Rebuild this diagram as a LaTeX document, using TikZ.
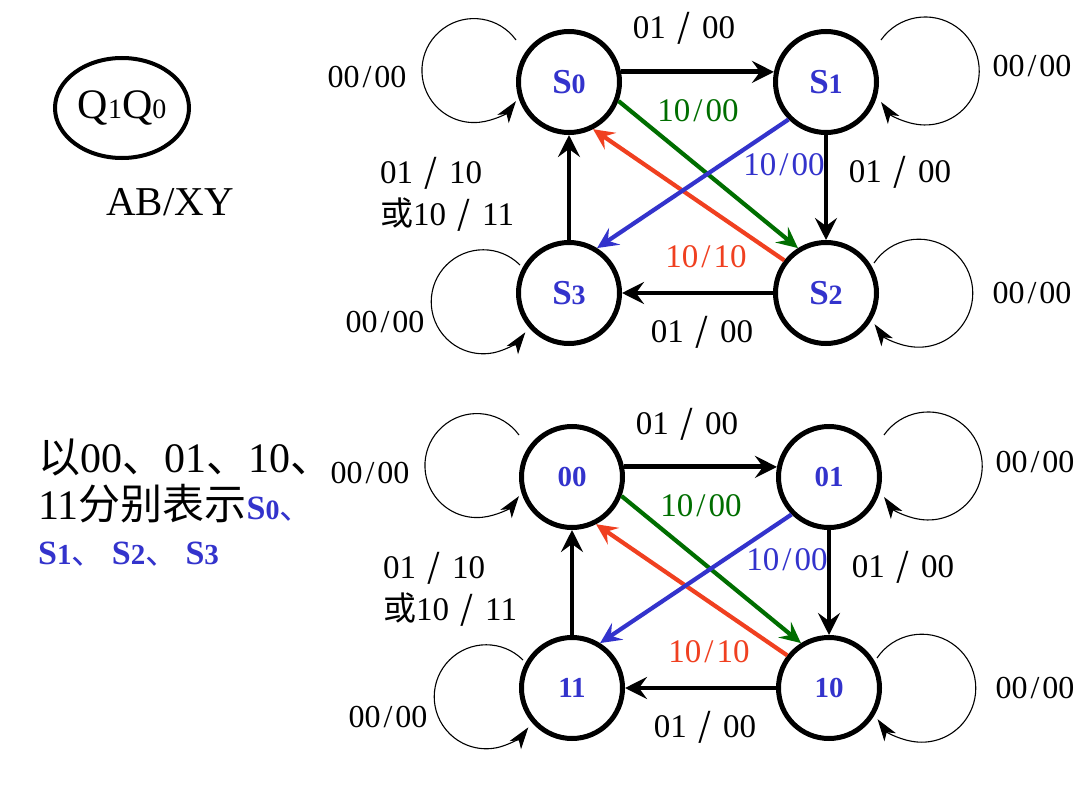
\documentclass[tikz,border=0pt]{standalone}
\usepackage{fontspec}
\setmainfont{Liberation Serif}
\newfontfamily\cjk{Noto Sans CJK SC}
\usetikzlibrary{arrows.meta,calc,shapes.geometric}
\definecolor{stblue}{RGB}{51,51,204}
\definecolor{stgreen}{RGB}{0,110,0}
\definecolor{stred}{RGB}{240,64,32}
\newcommand\fsz[1]{\fontsize{#1bp}{#1bp}\selectfont}
\newcommand\sla{\hspace{0.35em}{\cjk /}\hspace{0.35em}}
\newcommand\tsl{\kern3bp/\kern3bp}
\newcommand\stname[2]{{\bfseries\fsz{35}#1\fsz{28}#2}}
\newcommand\fsmdiagram[6]{%
\begin{scope}[shift={#6}]
\node[state] (#1a) at (569,82) {#2};
\node[state] (#1b) at (826,82) {#3};
\node[state] (#1c) at (826,293) {#4};
\node[state] (#1d) at (569,293) {#5};
\draw[edge] (#1a.11) -- (#1b.169);
\draw[edge] (#1b.south) -- (#1c.north);
\draw[edge] (#1c.west) -- (#1d.east);
\draw[edge] (#1d.north) -- (#1a.south);
\draw[cedge,stgreen] (#1a.-21) -- (#1c.122);
\draw[cedge,stred] (#1c.142) -- (#1a.-63);
\draw[cedge,stblue] (#1b.-135) -- (#1d.58);
\draw[loopline] ($(#1a)+(-53,-42)$) arc[start angle=-36,end angle=-324,radius=52];
\draw[loopline] ($(#1b)+(55,-42)$) arc[start angle=-145,end angle=145,radius=54];
\draw[loopline] ($(#1c)+(48,-30)$) arc[start angle=-146,end angle=145,radius=54];
\draw[loopline] ($(#1d)+(-49,-28)$) arc[start angle=-45,end angle=-324,radius=52];
\node[lab] (#1l1) at (684,39) {01\sla 00};
\node[lab,text=stgreen] (#1l2) at (698,121) {10\tsl 00};
\node[lab,text=stblue] (#1l3) at (784,175) {10\tsl 00};
\node[lab] (#1l4) at (900,182) {01\sla 00};
\node[lab,text=stred] (#1l5) at (706,267) {10\tsl 10};
\node[lab] (#1l6) at (702,342) {01\sla 00};
\node[looplab] (#1l7) at (367,88) {00\tsl 00};
\node[looplab] (#1l8) at (1032,77) {00\tsl 00};
\node[looplab] (#1l9) at (1032,303) {00\tsl 00};
\node[looplab] (#1l10) at (385,332) {00\tsl 00};
\node[lab,anchor=base west] (#1l11) at (380,183) {01\sla 10};
\node[lab,anchor=base west] (#1l12) at (380,225) {{\cjk 或}10\sla 11};
\end{scope}}
\begin{document}
\begin{tikzpicture}[x=1bp,y=-1bp,
 state/.style={circle,draw,line width=5bp,minimum size=101bp,inner sep=0pt,text=stblue},
 edge/.style={line width=4.8bp,-{Stealth[length=22bp,width=22bp,inset=8bp]}},
 cedge/.style={line width=4.2bp,-{Stealth[length=21bp,width=20bp,inset=8bp]}},
 loopline/.style={line width=1.1bp,-{Stealth[length=22bp,width=14bp,inset=6bp]}},
 lab/.style={anchor=base,inner sep=0pt,font=\fsz{33}},
 looplab/.style={anchor=base,inner sep=0pt,font=\fsz{32}},
]
\useasboundingbox[fill=white] (0,0) rectangle (1080,810);
% legend
\node[draw,ellipse,line width=4bp,minimum width=134bp,minimum height=100bp,inner sep=0pt] (leg) at (122,108)
  {\fsz{42}Q\fsz{28}1\fsz{42}Q\fsz{28}0};
\node[anchor=base,inner sep=0pt] (legtxt) at (170,215) {\fsz{41}AB/XY};
% diagrams
\fsmdiagram{t}{\stname{S}{0}}{\stname{S}{1}}{\stname{S}{2}}{\stname{S}{3}}{(0,0)}
\fsmdiagram{u}{{\bfseries\fsz{29}00}}{{\bfseries\fsz{29}01}}{{\bfseries\fsz{29}10}}{{\bfseries\fsz{29}11}}{(3,395)}
% left text
\node[anchor=base west,inner sep=0pt] (txt1) at (38,472)
  {\fsz{42}{\cjk 以}00{\cjk 、}01{\cjk 、}10{\cjk 、}};
\node[anchor=base west,inner sep=0pt] (txt2) at (38,519)
  {\fsz{42}11{\cjk 分别表示}{\color{stblue}\bfseries\fsz{34}S\fsz{28}0{\mdseries\cjk\fsz{33}、}}};
\node[anchor=base west,inner sep=0pt,text=stblue] (txt3) at (38,564)
  {\bfseries\fsz{34}S\fsz{29}1{\mdseries\cjk\fsz{33}、} \fsz{34}S\fsz{29}2{\mdseries\cjk\fsz{33}、} \fsz{34}S\fsz{29}3};
\end{tikzpicture}
\end{document}
